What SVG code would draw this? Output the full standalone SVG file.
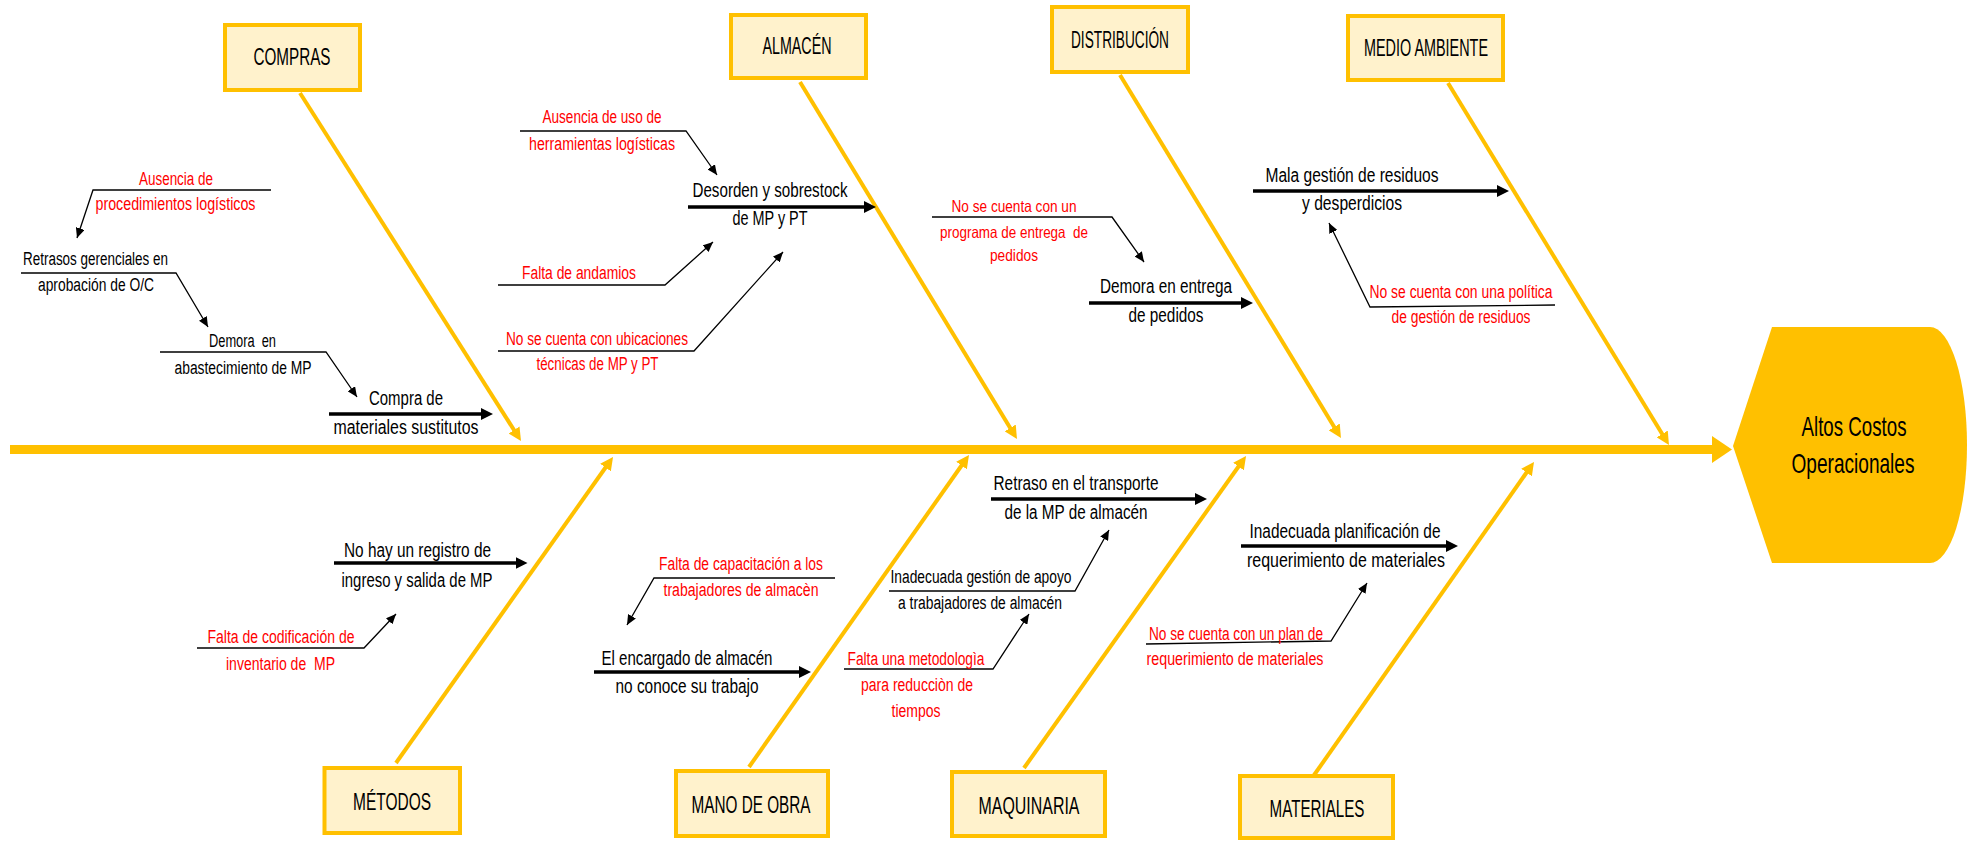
<svg xmlns="http://www.w3.org/2000/svg" width="1974" height="841" viewBox="0 0 1974 841">
  <style>
    text { font-family: "Liberation Sans", Arial, sans-serif; text-anchor: middle; white-space: pre; }
    .cat { font-size: 24px; fill: #000; }
    .cat-box { fill: #FFF2CC; stroke: #FFC000; stroke-width: 4; }
    .blk { font-size: 18px; fill: #000; }
    .main { font-size: 20px; fill: #000; }
    .red { font-size: 18px; fill: #FF0000; }
    .red16 { font-size: 16.5px; fill: #FF0000; }
    .title { font-size: 28px; fill: #000; }
    .bone { stroke: #FFC000; stroke-width: 4; fill: none; marker-end: url(#ahYellow); }
    .thick { stroke: #000; stroke-width: 3.5; fill: none; marker-end: url(#ahThick); }
    .thin { stroke: #000; stroke-width: 1.3; fill: none; marker-end: url(#ahThin); stroke-linejoin: miter; }
  </style>
  <defs>
    <marker id="ahYellow" markerUnits="userSpaceOnUse" markerWidth="14" markerHeight="13" refX="5" refY="6.5" orient="auto">
      <path d="M0,0 L13,6.5 L0,13 z" fill="#FFC000"/>
    </marker>
    <marker id="ahThick" markerUnits="userSpaceOnUse" markerWidth="13" markerHeight="12" refX="4" refY="6" orient="auto">
      <path d="M0,0 L12,6 L0,12 z" fill="#000"/>
    </marker>
    <marker id="ahThin" markerUnits="userSpaceOnUse" markerWidth="11" markerHeight="9" refX="10" refY="4.5" orient="auto">
      <path d="M0,0 L10,4.5 L0,9 z" fill="#000"/>
    </marker>
  </defs>

  <rect width="1974" height="841" fill="#fff"/>

  <!-- spine and head -->
  <g id="spine">
    <line x1="10" y1="449.5" x2="1713" y2="449.5" stroke="#FFC000" stroke-width="9"/>
    <polygon points="1712,436 1732,449.5 1712,463" fill="#FFC000"/>
  </g>
  <g id="effect">
    <path d="M1733,446 L1772,327 L1930,327 A37,118 0 0 1 1967,445 A37,118 0 0 1 1930,563 L1772,563 Z" fill="#FFC000"/>
    <text class="title" x="1854" y="436" textLength="105" lengthAdjust="spacingAndGlyphs">Altos Costos</text>
    <text class="title" x="1853" y="473" textLength="123" lengthAdjust="spacingAndGlyphs">Operacionales</text>
  </g>

  <!-- connectors: bones, cause arrows and sub-cause leaders -->
  <g id="connectors">
    <line class="bone" x1="300" y1="93" x2="516.7" y2="434.2"/>
    <line class="bone" x1="800" y1="82" x2="1012.8" y2="432.2"/>
    <line class="bone" x1="1120" y1="75" x2="1336.8" y2="431.2"/>
    <line class="bone" x1="1448" y1="83" x2="1664.8" y2="438.2"/>
    <line class="bone" x1="396" y1="763" x2="608.4" y2="463.5"/>
    <line class="bone" x1="749" y1="767" x2="964.4" y2="461.5"/>
    <line class="bone" x1="1024" y1="768" x2="1241.4" y2="462.5"/>
    <line class="bone" x1="1312" y1="778" x2="1529.4" y2="468.5"/>

    <line class="thick" x1="329" y1="414" x2="485" y2="414"/>
    <line class="thick" x1="688" y1="207" x2="868" y2="207"/>
    <line class="thick" x1="1089" y1="303" x2="1245" y2="303"/>
    <line class="thick" x1="1253" y1="191" x2="1501" y2="191"/>
    <line class="thick" x1="334" y1="563" x2="519.5" y2="563"/>
    <line class="thick" x1="594" y1="672" x2="803" y2="672"/>
    <line class="thick" x1="991" y1="499" x2="1199" y2="499"/>
    <line class="thick" x1="1241" y1="546" x2="1450" y2="546"/>

    <polyline class="thin" points="271,190 93,190 77,238"/>
    <polyline class="thin" points="21,273 176,273 208,327"/>
    <polyline class="thin" points="160,352 326,352 357,397"/>
    <polyline class="thin" points="520,131 686,131 717,175"/>
    <polyline class="thin" points="498,285 665,285 713,242"/>
    <polyline class="thin" points="498,351 694,351 783,252"/>
    <polyline class="thin" points="932,217 1112,217 1144,262"/>
    <polyline class="thin" points="1555,305 1370,307 1329,223"/>
    <polyline class="thin" points="197,648 364,648 396,614"/>
    <polyline class="thin" points="835,578 654,578 627,625"/>
    <polyline class="thin" points="844,669 993,669 1029,614"/>
    <polyline class="thin" points="889,591 1075,591 1109,530"/>
    <polyline class="thin" points="1146,644 1331,641 1367,583"/>
  </g>

  <!-- category boxes -->
  <g id="cat-compras">
    <rect class="cat-box" x="225" y="25" width="135" height="65"/>
    <text class="cat" x="292" y="65" textLength="77" lengthAdjust="spacingAndGlyphs">COMPRAS</text>
  </g>
  <g id="cat-almacen">
    <rect class="cat-box" x="731" y="15" width="135" height="63"/>
    <text class="cat" x="797" y="54" textLength="69" lengthAdjust="spacingAndGlyphs">ALMACÉN</text>
  </g>
  <g id="cat-distribucion">
    <rect class="cat-box" x="1052" y="7" width="136" height="65"/>
    <text class="cat" x="1120" y="48" textLength="98" lengthAdjust="spacingAndGlyphs">DISTRIBUCIÓN</text>
  </g>
  <g id="cat-medio-ambiente">
    <rect class="cat-box" x="1348" y="16" width="155" height="64"/>
    <text class="cat" x="1426" y="56" textLength="124" lengthAdjust="spacingAndGlyphs">MEDIO AMBIENTE</text>
  </g>
  <g id="cat-metodos">
    <rect class="cat-box" x="324.5" y="768" width="135.5" height="65"/>
    <text class="cat" x="392" y="810" textLength="78" lengthAdjust="spacingAndGlyphs">MÉTODOS</text>
  </g>
  <g id="cat-mano-de-obra">
    <rect class="cat-box" x="676" y="771" width="152" height="65"/>
    <text class="cat" x="751" y="813" textLength="119" lengthAdjust="spacingAndGlyphs">MANO DE OBRA</text>
  </g>
  <g id="cat-maquinaria">
    <rect class="cat-box" x="952" y="772" width="153" height="64"/>
    <text class="cat" x="1029" y="814" textLength="101" lengthAdjust="spacingAndGlyphs">MAQUINARIA</text>
  </g>
  <g id="cat-materiales">
    <rect class="cat-box" x="1240" y="776" width="153" height="62"/>
    <text class="cat" x="1317" y="817" textLength="95" lengthAdjust="spacingAndGlyphs">MATERIALES</text>
  </g>

  <!-- COMPRAS causes -->
  <g id="c-compra-sustitutos">
    <text class="main" x="406" y="405" textLength="74" lengthAdjust="spacingAndGlyphs">Compra de</text>
    <text class="main" x="406" y="434" textLength="145" lengthAdjust="spacingAndGlyphs">materiales sustitutos</text>
  </g>
  <g id="c-demora-abastecimiento">
    <text class="blk" x="242.5" y="347" textLength="67" lengthAdjust="spacingAndGlyphs">Demora  en</text>
    <text class="blk" x="243" y="374" textLength="137" lengthAdjust="spacingAndGlyphs">abastecimiento de MP</text>
  </g>
  <g id="c-retrasos-gerenciales">
    <text class="blk" x="95.5" y="265" textLength="145" lengthAdjust="spacingAndGlyphs">Retrasos gerenciales en</text>
    <text class="blk" x="96" y="291" textLength="116" lengthAdjust="spacingAndGlyphs">aprobación de O/C</text>
  </g>
  <g id="c-ausencia-procedimientos">
    <text class="red" x="176" y="185" textLength="74" lengthAdjust="spacingAndGlyphs">Ausencia de</text>
    <text class="red" x="175.5" y="210" textLength="160" lengthAdjust="spacingAndGlyphs">procedimientos logísticos</text>
  </g>

  <!-- ALMACÉN causes -->
  <g id="c-desorden">
    <text class="main" x="770" y="197" textLength="155" lengthAdjust="spacingAndGlyphs">Desorden y sobrestock</text>
    <text class="main" x="770" y="225" textLength="75" lengthAdjust="spacingAndGlyphs">de MP y PT</text>
  </g>
  <g id="c-ausencia-herramientas">
    <text class="red" x="602" y="123" textLength="119" lengthAdjust="spacingAndGlyphs">Ausencia de uso de</text>
    <text class="red" x="602" y="150" textLength="146" lengthAdjust="spacingAndGlyphs">herramientas logísticas</text>
  </g>
  <g id="c-andamios">
    <text class="red" x="579" y="279" textLength="114" lengthAdjust="spacingAndGlyphs">Falta de andamios</text>
  </g>
  <g id="c-ubicaciones">
    <text class="red" x="597" y="345" textLength="182" lengthAdjust="spacingAndGlyphs">No se cuenta con ubicaciones</text>
    <text class="red" x="597.5" y="370" textLength="122" lengthAdjust="spacingAndGlyphs">técnicas de MP y PT</text>
  </g>

  <!-- DISTRIBUCIÓN causes -->
  <g id="c-demora-entrega">
    <text class="main" x="1166" y="293" textLength="132" lengthAdjust="spacingAndGlyphs">Demora en entrega</text>
    <text class="main" x="1166" y="322" textLength="75" lengthAdjust="spacingAndGlyphs">de pedidos</text>
  </g>
  <g id="c-programa-entrega">
    <text class="red16" x="1014" y="212" textLength="125" lengthAdjust="spacingAndGlyphs">No se cuenta con un</text>
    <text class="red16" x="1014" y="238" textLength="148" lengthAdjust="spacingAndGlyphs">programa de entrega  de</text>
    <text class="red16" x="1014" y="261" textLength="48" lengthAdjust="spacingAndGlyphs">pedidos</text>
  </g>

  <!-- MEDIO AMBIENTE causes -->
  <g id="c-residuos">
    <text class="main" x="1352" y="182" textLength="173" lengthAdjust="spacingAndGlyphs">Mala gestión de residuos</text>
    <text class="main" x="1352" y="210" textLength="100" lengthAdjust="spacingAndGlyphs">y desperdicios</text>
  </g>
  <g id="c-politica-residuos">
    <text class="red" x="1461" y="298" textLength="183" lengthAdjust="spacingAndGlyphs">No se cuenta con una política</text>
    <text class="red" x="1461" y="323" textLength="139" lengthAdjust="spacingAndGlyphs">de gestión de residuos</text>
  </g>

  <!-- MÉTODOS causes -->
  <g id="c-registro">
    <text class="main" x="417.5" y="557" textLength="147" lengthAdjust="spacingAndGlyphs">No hay un registro de</text>
    <text class="main" x="417" y="587" textLength="151" lengthAdjust="spacingAndGlyphs">ingreso y salida de MP</text>
  </g>
  <g id="c-codificacion">
    <text class="red" x="281" y="643" textLength="147" lengthAdjust="spacingAndGlyphs">Falta de codificación de</text>
    <text class="red" x="280.5" y="670" textLength="109" lengthAdjust="spacingAndGlyphs">inventario de  MP</text>
  </g>

  <!-- MANO DE OBRA causes -->
  <g id="c-encargado">
    <text class="main" x="687" y="665" textLength="171" lengthAdjust="spacingAndGlyphs">El encargado de almacén</text>
    <text class="main" x="687" y="693" textLength="143" lengthAdjust="spacingAndGlyphs">no conoce su trabajo</text>
  </g>
  <g id="c-capacitacion">
    <text class="red" x="741" y="570" textLength="164" lengthAdjust="spacingAndGlyphs">Falta de capacitación a los</text>
    <text class="red" x="741" y="596" textLength="155" lengthAdjust="spacingAndGlyphs">trabajadores de almacèn</text>
  </g>

  <!-- MAQUINARIA causes -->
  <g id="c-transporte">
    <text class="main" x="1076" y="490" textLength="165" lengthAdjust="spacingAndGlyphs">Retraso en el transporte</text>
    <text class="main" x="1076" y="519" textLength="143" lengthAdjust="spacingAndGlyphs">de la MP de almacén</text>
  </g>
  <g id="c-gestion-apoyo">
    <text class="blk" x="981" y="583" textLength="181" lengthAdjust="spacingAndGlyphs">Inadecuada gestión de apoyo</text>
    <text class="blk" x="980" y="609" textLength="164" lengthAdjust="spacingAndGlyphs">a trabajadores de almacén</text>
  </g>
  <g id="c-metodologia">
    <text class="red" x="916" y="665" textLength="137" lengthAdjust="spacingAndGlyphs">Falta una metodologìa</text>
    <text class="red" x="917" y="691" textLength="112" lengthAdjust="spacingAndGlyphs">para reducciòn de</text>
    <text class="red" x="916" y="717" textLength="49" lengthAdjust="spacingAndGlyphs">tiempos</text>
  </g>

  <!-- MATERIALES causes -->
  <g id="c-planificacion">
    <text class="main" x="1345" y="538" textLength="191" lengthAdjust="spacingAndGlyphs">Inadecuada planificación de</text>
    <text class="main" x="1346" y="567" textLength="198" lengthAdjust="spacingAndGlyphs">requerimiento de materiales</text>
  </g>
  <g id="c-plan-requerimiento">
    <text class="red" x="1236" y="640" textLength="174" lengthAdjust="spacingAndGlyphs">No se cuenta con un plan de</text>
    <text class="red" x="1235" y="665" textLength="177" lengthAdjust="spacingAndGlyphs">requerimiento de materiales</text>
  </g>
</svg>
